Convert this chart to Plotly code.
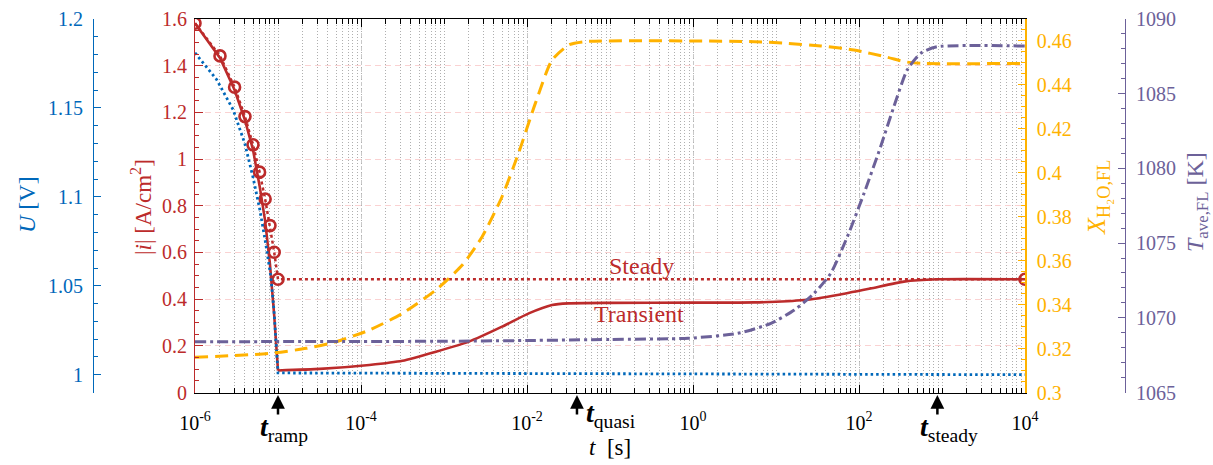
import plotly.graph_objects as go
import numpy as np

# ---------------- data ----------------
# steady-state current during the ramp (markers) and after
t_steady_pts = [1e-6, 2e-6, 3e-6, 4e-6, 5e-6, 6e-6, 7e-6, 8e-6, 9e-6, 1e-5, 1e4]
i_steady = [1.582, 1.442, 1.308, 1.182, 1.061, 0.944, 0.829, 0.715, 0.601, 0.485, 0.485]

# transient current
t_trans = [1e-6, 2e-6, 3e-6, 4e-6, 5e-6, 6e-6, 7e-6, 8e-6, 9e-6, 1e-5,
           3.2e-5, 1.26e-4, 3.16e-4, 8e-4, 2e-3, 5e-3, 1.05e-2, 2e-2, 3.16e-2,
           0.1, 1.0, 5.5, 21.9, 55, 138, 347, 871, 1e4]
i_trans = [1.582, 1.433, 1.296, 1.167, 1.04, 0.885, 0.735, 0.55, 0.33, 0.094,
           0.101, 0.118, 0.136, 0.175, 0.218, 0.282, 0.339, 0.375, 0.382,
           0.384, 0.385, 0.386, 0.396, 0.418, 0.446, 0.475, 0.485, 0.485]

# cell voltage
t_U = [1e-6, 1.82e-6, 2.88e-6, 3.98e-6, 5.0e-6, 6.03e-6, 7.1e-6, 8.2e-6, 8.95e-6, 9.55e-6, 1e-5, 1e4]
U = [1.181, 1.166, 1.149, 1.130, 1.111, 1.093, 1.074, 1.055, 1.036, 1.018, 1.001, 1.0]

# water mole fraction in fuel layer
t_X = [1e-6, 7.9e-6, 2.2e-5, 5e-5, 1.26e-4, 3.16e-4, 8e-4, 1.66e-3, 2.88e-3, 5e-3,
       7.9e-3, 1.26e-2, 2e-2, 3.2e-2, 5e-2, 5.5, 13.8, 34.7, 87, 219, 347, 550, 1e4]
X_H2O = [0.316, 0.3178, 0.3201, 0.3231, 0.3284, 0.336, 0.3467, 0.358, 0.3709, 0.3891,
         0.4089, 0.4316, 0.4513, 0.4582, 0.4597, 0.4597, 0.4589, 0.4577, 0.4559, 0.4526,
         0.4506, 0.4498, 0.4498]

# average fuel layer temperature
t_T = [1e-6, 1e-3, 1e-2, 0.1, 0.875, 3.47, 8.7, 16.6, 28.8, 45.7, 72.4, 115, 182,
       263, 380, 550, 871, 1e4]
T_ave = [1068.40, 1068.43, 1068.48, 1068.55, 1068.63, 1068.96, 1069.63, 1070.52,
         1071.64, 1072.98, 1075.43, 1078.33, 1081.45, 1084.13, 1086.58, 1087.70,
         1088.14, 1088.19]

# characteristic times
t_marks = {"ramp": 1e-5, "quasi": 0.04, "steady": 880}

x_major = [1e-6, 1e-4, 1e-2, 1e0, 1e2, 1e4]
x_major_text = ["10<sup>-6</sup>", "10<sup>-4</sup>", "10<sup>-2</sup>",
                "10<sup>0</sup>", "10<sup>2</sup>", "10<sup>4</sup>"]
x_minor = [k * 10.0 ** d for d in range(-6, 4) for k in range(1, 10)] + [1e4]

# ---------------- style ----------------
W, H = 1213, 465
FONT = "Liberation Serif, Times New Roman, serif"
RED = "#BC2B2B"
BLUE = "#0068BA"
YEL = "#FFB200"
PUR = "#6C6199"

def px(x):
    return x / W

def py(y):
    return 1 - y / H

x0, x1 = 195, 1025
y_top, y_bot = 19, 392.5
n_ramp = 10  # points belonging to the load ramp

fig = go.Figure()

fig.add_trace(go.Scatter(x=t_X, y=X_H2O, yaxis="y3", mode="lines",
                         line=dict(color=YEL, width=3, dash="13px,7px", shape="spline", smoothing=0.6)))
fig.add_trace(go.Scatter(x=t_T, y=T_ave, yaxis="y4", mode="lines",
                         line=dict(color=PUR, width=3, dash="11px,4px,3px,4px", shape="spline", smoothing=0.6)))
fig.add_trace(go.Scatter(x=t_U, y=U, yaxis="y2", mode="lines",
                         line=dict(color=BLUE, width=2.8, dash="2.5px,3px")))
fig.add_trace(go.Scatter(x=t_steady_pts, y=i_steady, yaxis="y", mode="lines+markers",
                         line=dict(color=RED, width=2.5, dash="3px,3px"),
                         marker=dict(symbol="circle-open", size=11, color=RED,
                                     line=dict(width=2.6, color=RED))))
fig.add_trace(go.Scatter(x=t_trans[:n_ramp], y=i_trans[:n_ramp], yaxis="y", mode="lines",
                         line=dict(color=RED, width=2.6)))
fig.add_trace(go.Scatter(x=t_trans[n_ramp - 1:], y=i_trans[n_ramp - 1:], yaxis="y", mode="lines",
                         line=dict(color=RED, width=2.6, shape="spline", smoothing=0.5)))

tickfont = lambda c: dict(family=FONT, size=20, color=c)

fig.update_layout(
    width=W, height=H, margin=dict(l=0, r=0, t=0, b=0, autoexpand=False),
    paper_bgcolor="white", plot_bgcolor="white", showlegend=False,
    font=dict(family=FONT),
    xaxis=dict(type="log", range=[-6, 4], domain=[px(x0), px(x1)], automargin=False,
               tickmode="array", tickvals=x_major, ticktext=x_major_text,
               ticks="inside", ticklen=8, tickwidth=1, tickcolor="black",
               showline=True, linecolor="black", linewidth=1, mirror="ticks",
               showgrid=True, gridcolor="rgb(200,200,200)", griddash="4px,3px", gridwidth=1,
               minor=dict(tickmode="array", tickvals=x_minor, ticks="inside", ticklen=5,
                          tickcolor="black", showgrid=True, gridcolor="rgb(175,175,175)",
                          griddash="1px,2px", gridwidth=1),
               tickfont=tickfont("black"), ticklabelstandoff=12, zeroline=False),
    yaxis=dict(domain=[py(y_bot), py(y_top)], range=[0, 1.6], tick0=0, dtick=0.2,
               automargin=False,
               ticks="inside", ticklen=8, tickcolor=RED, showline=True, linecolor=RED,
               linewidth=1.2, showgrid=True, gridcolor="rgb(250,210,210)", griddash="6px,4px",
               minor=dict(dtick=0.05, ticks="inside", ticklen=4, tickcolor=RED, showgrid=False),
               tickfont=tickfont(RED), zeroline=False, ticklabelstandoff=3),
    yaxis2=dict(overlaying="y", anchor="free", position=px(93), side="left",
                automargin=False,
                range=[0.99, 1.2], tick0=1.0, dtick=0.05, ticks="inside", ticklen=7,
                tickcolor=BLUE, showline=True, linecolor=BLUE, linewidth=1.2,
                showgrid=False, zeroline=False,
                minor=dict(dtick=0.01, ticks="inside", ticklen=4, tickcolor=BLUE, showgrid=False),
                tickfont=tickfont(BLUE), ticklabelstandoff=6),
    yaxis3=dict(overlaying="y", anchor="x", side="right", range=[0.3, 0.47],
                automargin=False,
                tick0=0.3, dtick=0.02, ticks="inside", ticklen=7, tickcolor=YEL,
                showline=True, linecolor=YEL, linewidth=1.5, showgrid=False, zeroline=False,
                minor=dict(dtick=0.005, ticks="inside", ticklen=4, tickcolor=YEL, showgrid=False),
                tickfont=tickfont(YEL), ticklabelstandoff=6),
    yaxis4=dict(overlaying="y", anchor="free", position=px(1125), side="right",
                automargin=False,
                range=[1065, 1090], tick0=1065, dtick=5, ticks="inside", ticklen=7,
                tickcolor=PUR, showline=True, linecolor=PUR, linewidth=1.2,
                showgrid=False, zeroline=False,
                minor=dict(dtick=1, ticks="inside", ticklen=4, tickcolor=PUR, showgrid=False),
                tickfont=tickfont(PUR), ticklabelstandoff=6),
)

ann = []
def text_ann(txt, cx, cy, color, size, angle=0):
    ann.append(dict(text=txt, xref="paper", yref="paper", x=px(cx), y=py(cy),
                    xanchor="center", yanchor="middle", showarrow=False,
                    textangle=angle, font=dict(family=FONT, size=size, color=color)))

text_ann("<i>U</i> [V]", 27, 205, BLUE, 24, -90)
text_ann("|<i>i</i>| [A/cm<sup>2</sup>]", 141, 207, RED, 23, -90)
text_ann("<i>X</i><sub>H₂O,FL</sub>", 1098, 198, YEL, 26, -90)
text_ann("<i>T</i><sub>ave,FL</sub> [K]", 1197, 202, PUR, 24, -90)
text_ann("<i>t</i>  [s]", 610, 447, "black", 23)
text_ann("Steady", 641, 266, RED, 24)
text_ann("Transient", 639, 314, RED, 24)

# arrows for characteristic times
for name, tv in t_marks.items():
    ann.append(dict(text="", x=np.log10(tv), xref="x", y=py(395), yref="paper",
                    showarrow=True, ax=0, ay=21, arrowhead=2, arrowsize=1.1,
                    arrowwidth=2.5, arrowcolor="black"))

text_ann("<b><i>t</i></b><sub>ramp</sub>", 284, 428, "black", 28)
text_ann("<b><i>t</i></b><sub>quasi</sub>", 611, 414, "black", 28)
text_ann("<b><i>t</i></b><sub>steady</sub>", 949, 428, "black", 28)

fig.update_layout(annotations=ann)
fig.write_html("out.html")
